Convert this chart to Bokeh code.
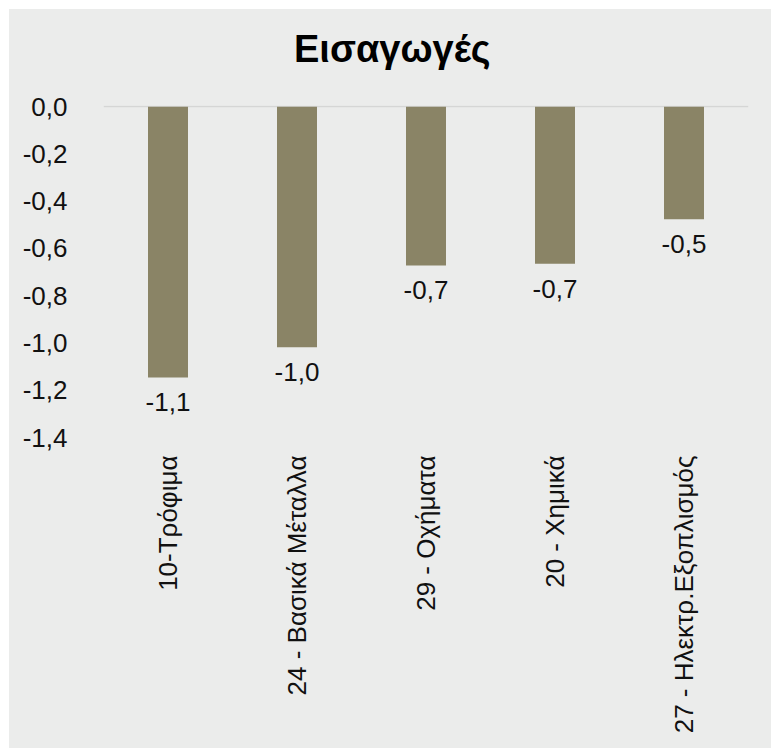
import math

from bokeh.plotting import figure
from bokeh.layouts import column
from bokeh.core.properties import value
from bokeh.models import (Range1d, FixedTicker, LabelSet, ColumnDataSource, Div,
                          CustomJSTickFormatter)
from bokeh.embed import file_html
from bokeh.resources import INLINE

# Import changes by product group
categories = ["10-Τρόφιμα", "24 - Βασικά Μέταλλα", "29 - Οχήματα", "20 - Χημικά",
              "27 - Ηλεκτρ.Εξοπλισμός"]
values = [-1.146, -1.018, -0.672, -0.665, -0.476]

y_ticks = [-1.4, -1.2, -1.0, -0.8, -0.6, -0.4, -0.2, 0.0]
y_tick_labels = ["-1,4", "-1,2", "-1,0", "-0,8", "-0,6", "-0,4", "-0,2", "0,0"]

title_text = "Εισαγωγές"

BG = "#EBECEB"
BAR = "#8A8466"
FONT = "Liberation Sans"
TXT = "26px"

value_labels = [f"{v:.1f}".replace(".", ",") for v in values]
source = ColumnDataSource(data=dict(cat=categories, val=values, lab=value_labels))

# heading strip on the same background as the chart
header = Div(
    text=(f'<div style="width:762px; height:77px; box-sizing:border-box; margin:0; '
          f'padding:21px 0 0 285px; text-align:left; background-color:{BG}; '
          f'line-height:1; font-family:\'{FONT}\'; font-size:38px; font-weight:bold; '
          f'color:#000000; white-space:nowrap;">{title_text}</div>'),
    width=762, height=77, margin=0,
    styles={"background-color": BG, "overflow": "hidden"})

# a sliver above zero keeps the zero line inside the frame
p = figure(x_range=categories, y_range=Range1d(-1.4, 0.005),
           width=762, height=662, margin=0,
           output_backend="svg", toolbar_location=None,
           min_border_left=94, min_border_right=23,
           min_border_top=19, min_border_bottom=311)

p.background_fill_color = BG
p.border_fill_color = BG
p.outline_line_color = None

p.vbar(x="cat", top="val", bottom=0, width=0.31, source=source,
       fill_color=BAR, line_color=None)

p.add_layout(LabelSet(x="cat", y="val", text="lab", source=source,
                      y_offset=-16, text_align="center", text_baseline="top",
                      text_font=value(FONT), text_font_size=TXT,
                      text_color="#111111"))

# grid: only the zero line
p.xgrid.grid_line_color = None
p.ygrid.ticker = FixedTicker(ticks=[0.0])
p.ygrid.grid_line_color = "#D5D6D5"
p.ygrid.grid_line_width = 1.5

# y axis
p.yaxis.ticker = FixedTicker(ticks=y_ticks)
p.yaxis.formatter = CustomJSTickFormatter(
    args=dict(tvals=y_ticks, tlabels=y_tick_labels),
    code="""
let best = 0;
for (let i = 0; i < tvals.length; i++) {
  if (Math.abs(tvals[i] - tick) < Math.abs(tvals[best] - tick)) best = i;
}
return tlabels[best];
""")
p.yaxis.axis_line_color = None
p.yaxis.major_tick_line_color = None
p.yaxis.minor_tick_line_color = None
p.yaxis.major_label_standoff = 30
p.yaxis.major_label_text_font = FONT
p.yaxis.major_label_text_font_size = TXT
p.yaxis.major_label_text_color = "#111111"

# x axis
p.xaxis.axis_line_color = None
p.xaxis.major_tick_line_color = None
p.xaxis.minor_tick_line_color = None
p.xaxis.major_label_orientation = math.pi / 2
p.xaxis.major_label_standoff = 12
p.xaxis.major_label_text_font = FONT
p.xaxis.major_label_text_font_size = TXT
p.xaxis.major_label_text_color = "#111111"

page = column(header, p, spacing=0, margin=(9, 0, 0, 9),
              styles={"background-color": BG})

open("out.html", "w").write(file_html(page, INLINE))
